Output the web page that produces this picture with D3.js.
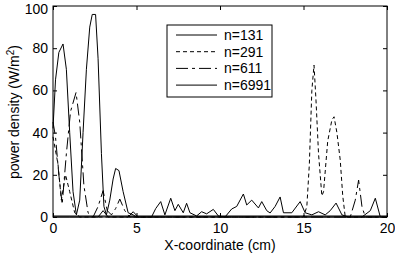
<!DOCTYPE html>
<html>
<head>
<meta charset="utf-8">
<script src="https://cdn.jsdelivr.net/npm/d3@7"></script>
<style>
  body { margin: 0; background: white; }
  svg { display: block; font-family: "Liberation Sans", Arial, sans-serif; }
  .axis path { display: none; }
  .axis line { stroke: black; }
  .axis text { font-size: 14px; fill: black; }
</style>
</head>
<body>
<div id="chart"></div>
<script>
// values
let xTicks = [0, 5, 10, 15, 20];
let yTicks = [0, 20, 40, 60, 80, 100];
let seriesNames = ["n=131", "n=291", "n=611", "n=6991"];

let x131 = [0, 1, 2, 2.7, 3, 3.3, 4.5, 4.8, 5.1, 5.9, 6.15, 6.45, 6.7, 7.05, 7.3, 7.5, 7.8, 8.0, 8.2, 8.6, 8.9, 9.2, 9.6, 9.9, 10.3, 10.7, 11.0, 11.4, 11.6, 11.9, 12.3, 12.5, 12.8, 13.0, 13.3, 13.6, 13.8, 14.3, 14.8, 15.1, 15.5, 15.9, 16.3, 16.6, 16.95, 17.3, 17.7, 18.5, 19.0, 19.3, 19.6, 20];
let y131 = [0, 0, 0, 0, 3, 0, 0, 2.5, 0, 0, 4, 7.3, 1, 8.9, 3, 6, 2, 6.5, 2, 0.5, 2.5, 1.5, 3.6, 0.5, 0, 3.8, 5, 10.9, 5.7, 8, 4.3, 7.3, 3, 1.9, 5, 9.5, 2, 2, 7.3, 2, 1, 2.5, 1, 3, 6.6, 1, 0, 0, 3, 8.9, 0, 0];

let x291 = [0, 0.3, 0.5, 0.75, 1.0, 1.3, 1.6, 15.0, 15.2, 15.35, 15.5, 15.63, 15.75, 15.9, 16.1, 16.2, 16.45, 16.7, 16.83, 17.0, 17.2, 17.35, 17.5, 20];
let y291 = [38, 25, 8, 20, 12, 2, 0, 0, 5, 25, 60, 72, 55, 30, 10, 12, 36, 46, 47.5, 40, 27, 10, 0, 0];

let x611 = [0, 0.15, 0.35, 0.55, 0.8, 1.05, 1.38, 1.6, 1.85, 2.1, 2.4, 2.7, 3.0, 3.25, 3.5, 3.75, 4.0, 4.3, 4.6, 17.8, 18.1, 18.3, 18.5, 18.7, 20];
let y611 = [45, 38, 20, 6, 30, 50, 59, 45, 15, 2, 0, 5, 12.5, 3, 1, 4, 8.5, 3, 0, 0, 8, 17.5, 5, 0, 0];

let x6991 = [0, 0.15, 0.35, 0.6, 0.8, 1.0, 1.2, 1.4, 1.6, 1.8, 2.0, 2.2, 2.35, 2.55, 2.7, 2.9, 3.05, 3.2, 3.4, 3.6, 3.75, 3.95, 4.2, 4.5, 4.8, 5.0, 20];
let y6991 = [42, 65, 78, 82, 70, 40, 12, 1, 8, 40, 70, 90, 96, 96, 75, 30, 5, 1, 8, 18, 23, 22, 12, 2, 1, 0, 0];

let w = 395, h = 255;
let padL = 53, padR = 387, padT = 6, padB = 217;

let svg = d3.select("#chart")
    .append("svg")
    .attr("width", w)
    .attr("height", h)
    .style("background-color", "white")
;

let xScale = d3.scaleLinear().domain([0, 20]).range([padL, padR]);
let yScale = d3.scaleLinear().domain([0, 100]).range([padB, padT]);

// axes, ticks pointing inwards
svg.append("g").attr("class", "axis")
    .attr("transform", "translate(0," + padB + ")")
    .call(d3.axisBottom(xScale).tickValues(xTicks).tickSizeInner(-4).tickSizeOuter(0).tickPadding(6));
svg.append("g").attr("class", "axis")
    .attr("transform", "translate(0," + padT + ")")
    .call(d3.axisTop(xScale).tickValues(xTicks).tickSizeInner(-4).tickSizeOuter(0).tickFormat(""));
let yAxisGroup = svg.append("g").attr("class", "axis")
    .attr("transform", "translate(" + padL + ",0)")
    .call(d3.axisLeft(yScale).tickValues(yTicks).tickSizeInner(-4).tickSizeOuter(0).tickPadding(5));
// keep the top label inside the picture
yAxisGroup.selectAll("text").filter(d => d == 100).attr("dy", "0.5em");
svg.append("g").attr("class", "axis")
    .attr("transform", "translate(" + padR + ",0)")
    .call(d3.axisRight(yScale).tickValues(yTicks).tickSizeInner(-4).tickSizeOuter(0).tickFormat(""));

svg.append("rect")
    .attr("x", padL).attr("y", padT)
    .attr("width", padR - padL).attr("height", padB - padT)
    .attr("fill", "none").attr("stroke", "black");

// series
let dashes = ["none", "4,3", "12,4,3,4", "none"];
let allX = [x131, x291, x611, x6991];
let allY = [y131, y291, y611, y6991];

let line = d3.line()
    .x(d => xScale(d[0]))
    .y(d => yScale(d[1]));

let plot = svg.append("g");
allX.forEach((xs, i) => {
  let pts = xs.map((xv, j) => [xv, allY[i][j]]);
  plot.append("path")
    .datum(pts)
    .attr("d", line)
    .attr("fill", "none")
    .attr("stroke", "black")
    .attr("stroke-width", 1)
    .attr("stroke-dasharray", dashes[i]);
});

// thick base where all the series sit on zero
svg.append("line")
    .attr("x1", padL).attr("x2", padR)
    .attr("y1", yScale(0) - 1).attr("y2", yScale(0) - 1)
    .attr("stroke", "black");

// legend
let legend = svg.append("g");
legend.append("rect")
    .attr("x", 167).attr("y", 25)
    .attr("width", 105).attr("height", 72)
    .attr("fill", "white").attr("stroke", "black");
seriesNames.forEach((name, i) => {
  let ly = 35 + i * 16.7;
  legend.append("line")
    .attr("x1", 176).attr("x2", 217)
    .attr("y1", ly).attr("y2", ly)
    .attr("stroke", "black")
    .attr("stroke-dasharray", dashes[i]);
  legend.append("text")
    .attr("x", 224).attr("y", ly)
    .attr("dy", "0.35em")
    .attr("font-size", 14)
    .text(name);
});

// axis titles
svg.append("text")
    .attr("x", (padL + padR) / 2)
    .attr("y", 250)
    .attr("text-anchor", "middle")
    .attr("font-size", 14)
    .text("X-coordinate (cm)");

let yl = svg.append("text")
    .attr("transform", "translate(19," + 112 + ") rotate(-90)")
    .attr("text-anchor", "middle")
    .attr("font-size", 14);
yl.append("tspan").text("power density (W/m");
yl.append("tspan").attr("font-size", 10).attr("dy", "-0.5em").text("2");
yl.append("tspan").attr("dy", "0.35em").text(")");
</script>
</body>
</html>
